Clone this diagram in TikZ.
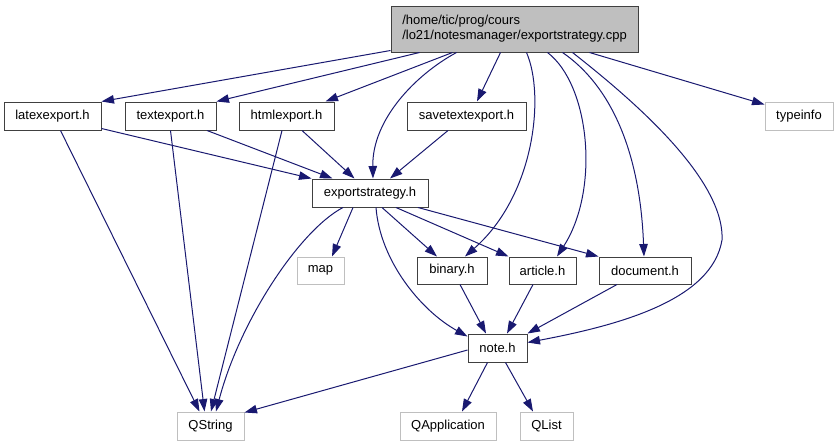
\documentclass[tikz,border=0pt]{standalone}
\usepackage{fontspec}
\setmainfont{Liberation Sans}
\usetikzlibrary{arrows.meta}
\definecolor{edgeblue}{RGB}{25,25,112}
\definecolor{boxdark}{RGB}{64,64,64}
\definecolor{boxlight}{RGB}{191,191,191}
\definecolor{topfill}{RGB}{191,191,191}
\tikzset{
  hdr/.style={draw=boxdark, line width=1pt, fill=white, minimum height=28pt, inner sep=0pt, font=\fontsize{13}{15}\selectfont},
  ext/.style={draw=boxlight, line width=1pt, fill=white, minimum height=28pt, inner sep=0pt, font=\fontsize{13}{15}\selectfont},
  dep/.style={draw=edgeblue, line width=1pt, -{Triangle[length=12.5pt,width=8.5pt]}},
}
\begin{document}
\begin{tikzpicture}[x=1pt,y=-1pt]
\useasboundingbox (0,0) rectangle (837,445);
% nodes
\node[hdr, fill=topfill, minimum width=247pt, minimum height=46pt, align=left] (top) at (514.5,29) {/home/tic/prog/cours\\/lo21/notesmanager/exportstrategy.cpp};
\node[hdr, minimum width=97pt] (latex) at (52.5,116) {latexexport.h};
\node[hdr, minimum width=91pt] (text) at (170.5,116) {textexport.h};
\node[hdr, minimum width=95pt] (html) at (286.5,116) {htmlexport.h};
\node[hdr, minimum width=119pt] (save) at (466.5,116) {savetextexport.h};
\node[ext, minimum width=68pt] (typeinfo) at (799,116) {typeinfo};
\node[hdr, minimum width=116pt] (es) at (370,193) {exportstrategy.h};
\node[ext, minimum width=47pt, minimum height=27pt] (map) at (320.5,270.5) {map};
\node[hdr, minimum width=70pt, minimum height=27pt] (binary) at (452,270.5) {binary.h};
\node[hdr, minimum width=67pt, minimum height=27pt] (article) at (542.5,270.5) {article.h};
\node[hdr, minimum width=92pt, minimum height=27pt] (document) at (645,270.5) {document.h};
\node[hdr, minimum width=59pt] (note) at (497.5,348) {note.h};
\node[ext, minimum width=67pt] (qstring) at (210.5,426) {QString};
\node[ext, minimum width=96pt] (qapp) at (448,426) {QApplication};
\node[ext, minimum width=53pt] (qlist) at (546.5,426) {QList};
% edges from top
\draw[dep] ([yshift=2pt]top.south west) -- (latex.north east);
\draw[dep] ([xshift=29pt]top.south west) -- (text.north east);
\draw[dep] ([xshift=62pt]top.south west) -- ([xshift=-9pt]html.north east);
\draw[dep] ([xshift=110pt]top.south west) -- ([xshift=10.5pt]save.north);
\draw[dep] ([xshift=66pt]top.south west) .. controls (415,75) and (372,120) .. ([xshift=3pt]es.north);
\draw[dep] ([xshift=136pt]top.south west) .. controls (545,95) and (535,195) .. ([xshift=13pt]binary.north);
\draw[dep] ([xshift=157pt]top.south west) .. controls (590,85) and (600,190) .. ([xshift=14.5pt]article.north);
\draw[dep] ([xshift=172pt]top.south west) .. controls (610,85) and (640,150) .. ([xshift=-1pt]document.north);
\draw[dep] ([xshift=182pt]top.south west) .. controls (620,90) and (725,175) .. (722,240) .. controls (712,300) and (620,325) .. ([yshift=-9pt]note.north east);
\draw[dep] ([xshift=199pt]top.south west) -- ([yshift=-3pt]typeinfo.north west);
% second level
\draw[dep] ([xshift=8pt]latex.south) -- ([xshift=-11pt]qstring.north);
\draw[dep] ([yshift=2pt]latex.south east) -- (es.north west);
\draw[dep] (text.south) -- ([xshift=-6pt]qstring.north);
\draw[dep] ([xshift=36.5pt]text.south) -- ([xshift=21pt]es.north west);
\draw[dep] ([xshift=-4.5pt]html.south) -- ([xshift=0.5pt]qstring.north);
\draw[dep] ([xshift=15.5pt]html.south) -- ([xshift=43pt]es.north west);
\draw[dep] ([xshift=-18.5pt]save.south) -- ([xshift=20pt]es.north);
% from exportstrategy
\draw[dep] ([xshift=-17pt]es.south) -- ([xshift=11.5pt]map.north);
\draw[dep] ([xshift=-27pt]es.south) .. controls (300,230) and (240,320) .. ([xshift=5.5pt]qstring.north);
\draw[dep] ([xshift=6pt]es.south) .. controls (380,260) and (420,310) .. ([yshift=-3pt]note.north west);
\draw[dep] ([xshift=12pt]es.south) -- ([xshift=-15pt]binary.north);
\draw[dep] ([xshift=26pt]es.south) -- (article.north west);
\draw[dep] ([xshift=48pt]es.south) -- (document.north west);
% to note
\draw[dep] ([xshift=8pt]binary.south) -- ([xshift=-11.5pt]note.north);
\draw[dep] ([xshift=-9.5pt]article.south) -- ([xshift=9.5pt]note.north);
\draw[dep] ([xshift=-28pt]document.south) -- (note.north east);
% from note
\draw[dep] ([yshift=-2pt]note.west) -- ([yshift=-1pt]qstring.north east);
\draw[dep] ([xshift=-10pt]note.south) -- ([xshift=14pt]qapp.north);
\draw[dep] ([xshift=8pt]note.south) -- ([xshift=-13.5pt]qlist.north);
\end{tikzpicture}
\end{document}
